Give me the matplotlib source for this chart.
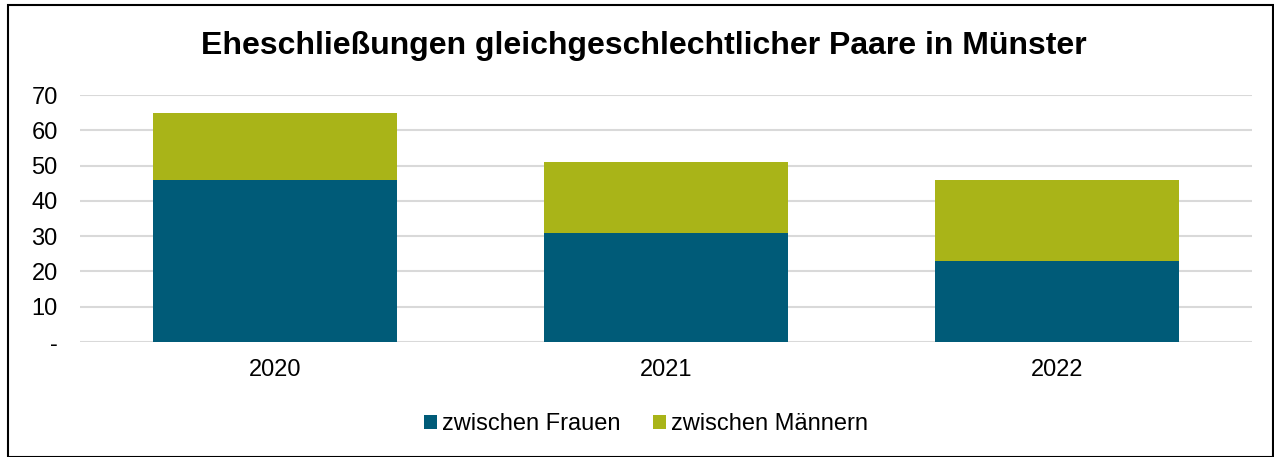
import numpy as np
import matplotlib.pyplot as plt
from matplotlib.patches import Rectangle

years = ["2020", "2021", "2022"]
frauen = [46, 31, 23]
maenner = [19, 20, 23]
yticks = [0, 10, 20, 30, 40, 50, 60, 70]
ytick_labels = ["-", "10", "20", "30", "40", "50", "60", "70"]

teal = "#005b78"
olive = "#a9b418"

plt.rcParams["font.family"] = ["Liberation Sans", "DejaVu Sans"]

fig = plt.figure(figsize=(12.74, 4.57), dpi=100)
ax = fig.add_axes([80 / 1274, 1 - 342 / 457, (1252 - 80) / 1274, (342 - 95) / 457])

x = np.arange(len(years))
ax.bar(x, frauen, width=0.625, color=teal, label="zwischen Frauen", zorder=3)
ax.bar(x, maenner, width=0.625, bottom=frauen, color=olive,
       label="zwischen Männern", zorder=3)

ax.set_xlim(-0.5, len(years) - 0.5)
ax.set_ylim(0, 70)
ax.set_xticks(x)
ax.set_xticklabels(years)
ax.set_yticks(yticks)
ax.set_yticklabels(ytick_labels)
ax.tick_params(axis="both", length=0, labelsize=17, colors="black")
ax.tick_params(axis="x", pad=12)
ax.tick_params(axis="y", pad=16)
ax.grid(axis="y", color="#d9d9d9", linewidth=1.5, zorder=0)
for s in ax.spines.values():
    s.set_visible(False)

fig.text(0.505, 1 - 46 / 457, "Eheschließungen gleichgeschlechtlicher Paare in Münster",
         ha="center", va="center", fontsize=23, weight="bold")

fig.legend(loc="center", bbox_to_anchor=(0.507, 1 - 424 / 457), ncol=2, frameon=False,
           fontsize=17, handlelength=0.55, handleheight=0.55, handletextpad=0.2,
           columnspacing=1.4)

fig.patches.append(Rectangle((8 / 1274, 0), 1 - 9 / 1274, 1 - 5 / 457,
                             transform=fig.transFigure, fill=False,
                             edgecolor="black", linewidth=1.5))

fig.savefig("out.png", dpi=100)
